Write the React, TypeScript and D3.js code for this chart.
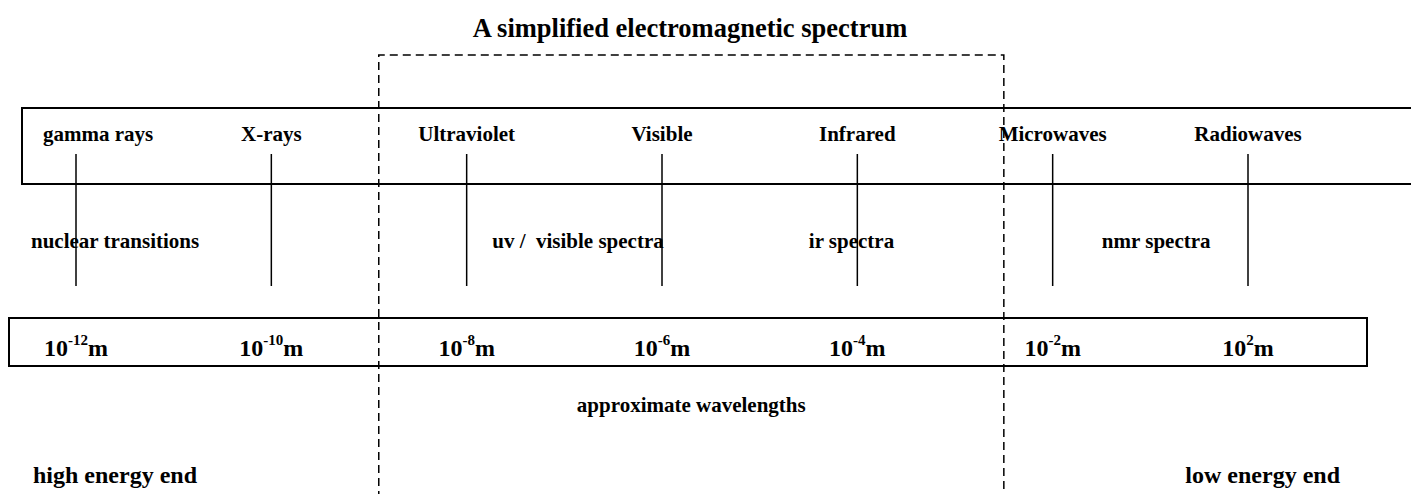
import React, { useLayoutEffect, useRef } from 'react';
import * as d3 from 'd3';

// spectrum bands, left (short wavelength) to right (long wavelength)
const bands = ['gamma rays', 'X-rays', 'Ultraviolet', 'Visible', 'Infrared', 'Microwaves', 'Radiowaves'];
// power of ten (metres) printed under each band
const wavelengthExponents = ['-12', '-10', '-8', '-6', '-4', '-2', '2'];
// kinds of spectroscopy and where they sit, in band-index units
const spectraLabels = ['nuclear transitions', 'uv /  visible spectra', 'ir spectra', 'nmr spectra'];
const spectraAt = [0.2, 2.57, 3.97, 5.53];
// dashed region (uv / visible / ir), in band-index units
const opticalSpan = [1.55, 4.75];

const W = 1411;
const H = 494;
const font = '"Liberation Serif", "Times New Roman", serif';

export default function App() {
  const svgRef = useRef<SVGSVGElement>(null);

  const x = d3.scaleLinear()
    .domain([0, bands.length - 1])
    .range([76, 1248]);

  const bandBox = { x0: 22, x1: W + 10, y0: 108, y1: 184 };
  const waveBox = { x0: 9, x1: 1367, y0: 318, y1: 366 };
  const tickTop = 154, tickBottom = 286;

  // keep band names inside the band box
  useLayoutEffect(() => {
    d3.select(svgRef.current).selectAll<SVGTextElement, unknown>('text.band').each(function () {
      const w = this.getComputedTextLength();
      const cx = +this.getAttribute('x')!;
      const minX = bandBox.x0 + 21 + w / 2;
      if (cx < minX) d3.select(this).attr('x', minX);
    });
  }, []);

  const dashed = d3.path();
  dashed.moveTo(x(opticalSpan[0]), H + 5);
  dashed.lineTo(x(opticalSpan[0]), 55);
  dashed.lineTo(x(opticalSpan[1]), 55);
  dashed.lineTo(x(opticalSpan[1]), H + 5);

  return (
    <svg ref={svgRef} width={W} height={H} style={{ position: 'absolute', left: 0, top: 0, background: '#fff' }}
      fontFamily={font} fontWeight="bold" fill="#000">
      <text x={690} y={37} fontSize={26.5} textAnchor="middle">A simplified electromagnetic spectrum</text>

      <path d={dashed.toString()} fill="none" stroke="#000" strokeWidth={1.5} strokeDasharray="8,5" />

      {/* band box */}
      <rect x={bandBox.x0} y={bandBox.y0} width={bandBox.x1 - bandBox.x0} height={bandBox.y1 - bandBox.y0}
        fill="none" stroke="#000" strokeWidth={2} />
      {bands.map((b, i) => (
        <g key={b}>
          <text className="band" x={x(i)} y={141} fontSize={21} textAnchor="middle">{b}</text>
          <line x1={x(i)} x2={x(i)} y1={tickTop} y2={tickBottom} stroke="#000" strokeWidth={1.5} />
        </g>
      ))}

      {spectraLabels.map((s, i) => (
        <text key={s} x={x(spectraAt[i])} y={248} fontSize={21} textAnchor="middle"
          style={{ whiteSpace: 'pre' }}>{s}</text>
      ))}

      {/* wavelength box */}
      <rect x={waveBox.x0} y={waveBox.y0} width={waveBox.x1 - waveBox.x0} height={waveBox.y1 - waveBox.y0}
        fill="none" stroke="#000" strokeWidth={2} />
      {wavelengthExponents.map((e, i) => (
        <text key={e} x={x(i)} y={356} fontSize={24} textAnchor="middle">
          10<tspan fontSize={15} dy={-11}>{e}</tspan><tspan dy={11}>m</tspan>
        </text>
      ))}

      <text x={(x(opticalSpan[0]) + x(opticalSpan[1])) / 2} y={412} fontSize={21} textAnchor="middle">
        approximate wavelengths
      </text>

      <text x={33} y={483} fontSize={24}>high energy end</text>
      <text x={1340} y={483} fontSize={24} textAnchor="end">low energy end</text>
    </svg>
  );
}
